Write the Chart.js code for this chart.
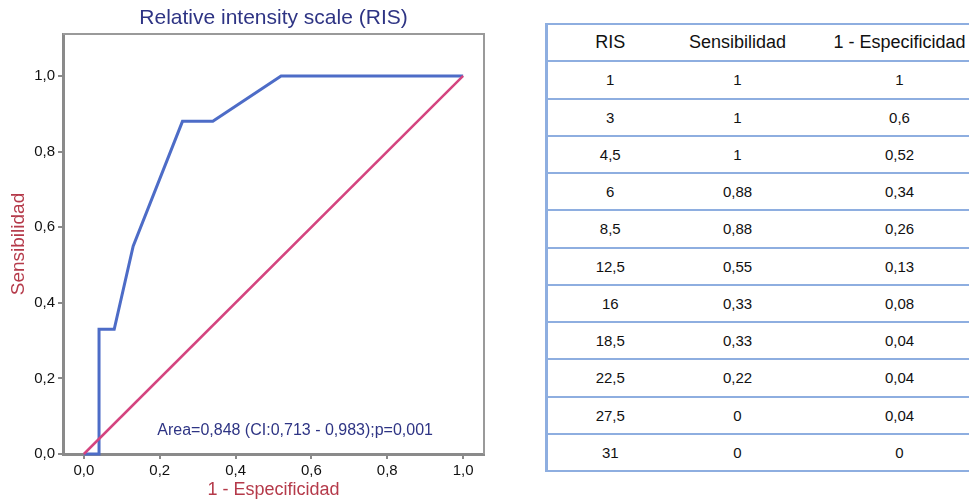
<!DOCTYPE html>
<html>
<head>
<meta charset="utf-8">
<script src="https://cdn.jsdelivr.net/npm/chart.js@4"></script>
<style>
  html, body { margin: 0; padding: 0; background: #fff; overflow: hidden; }
  body { width: 969px; height: 502px; position: relative; font-family: "Liberation Sans", Arial, sans-serif; }
  #chartBox { position: absolute; left: 0; top: 0; width: 490px; height: 502px; }
  #tableBox { position: absolute; left: 545px; top: 23px; width: 424px; overflow: hidden; }
  table { border-collapse: collapse; width: 450px; table-layout: fixed; color: #111; }
  td, th { height: 35.25px; padding: 0; text-align: center; border-top: 2px solid #8eaee0; font-weight: normal; }
  th { font-size: 18px; }
  td { font-size: 15px; }
  tr:last-child td { border-bottom: 2px solid #8eaee0; }
  tr > :first-child { border-left: 3px solid #8eaee0; }
</style>
</head>
<body>
<div id="chartBox"><canvas id="rocChart"></canvas></div>
<div id="tableBox"><table id="risTable"></table></div>
<script>
// Table values (RIS cut-off points)
const risValues = ['1', '3', '4,5', '6', '8,5', '12,5', '16', '18,5', '22,5', '27,5', '31'];
const sensValues = [1, 1, 1, 0.88, 0.88, 0.55, 0.33, 0.33, 0.22, 0, 0];
const fprValues = [1, 0.6, 0.52, 0.34, 0.26, 0.13, 0.08, 0.04, 0.04, 0.04, 0];
const tableHeaders = ['RIS', 'Sensibilidad', '1 - Especificidad'];

// Reference diagonal
const diagX = [0, 1];
const diagY = [0, 1];

const tickValues = [0, 0.2, 0.4, 0.6, 0.8, 1.0];

const fmt = (v) => String(v).replace('.', ',');
const fmtTick = (v) => v.toFixed(1).replace('.', ',');

// Build the table
const table = document.getElementById('risTable');
const colWidths = [126, 130, 194];
let html = '<colgroup>' + colWidths.map(w => `<col style="width:${w}px">`).join('') + '</colgroup>';
html += '<tr>' + tableHeaders.map(h => `<th>${h}</th>`).join('') + '</tr>';
risValues.forEach((r, i) => {
    html += `<tr><td>${r}</td><td>${fmt(sensValues[i])}</td><td>${fmt(fprValues[i])}</td></tr>`;
});
table.innerHTML = html;

// ROC points sorted by 1 - specificity
const rocPoints = [{ x: 0, y: 0 }];
for (let i = risValues.length - 1; i >= 0; i--) {
    rocPoints.push({ x: fprValues[i], y: sensValues[i] });
}
const diagPoints = diagX.map((x, i) => ({ x: x, y: diagY[i] }));

// Frame on top / right + area label
const framePlugin = {
    id: 'frame',
    afterDraw(chart) {
        const { ctx, chartArea, scales } = chart;
        ctx.save();
        ctx.strokeStyle = '#9a9a9a';
        ctx.lineWidth = 2;
        ctx.beginPath();
        ctx.moveTo(chartArea.left, chartArea.top);
        ctx.lineTo(chartArea.right, chartArea.top);
        ctx.lineTo(chartArea.right, chartArea.bottom);
        ctx.stroke();
        ctx.fillStyle = '#2e3484';
        ctx.font = '16px "Liberation Sans", Arial, sans-serif';
        ctx.textAlign = 'center';
        ctx.textBaseline = 'middle';
        ctx.fillText('Area=0,848 (CI:0,713 - 0,983);p=0,001',
            scales.x.getPixelForValue(0.557), scales.y.getPixelForValue(0.062));
        ctx.restore();
    }
};

const axisStyle = (titleText, fixSize, titleSize) => ({
    type: 'linear',
    afterBuildTicks: (s) => { s.ticks = tickValues.map(v => ({ value: v })); },
    afterFit: fixSize,
    ticks: {
        color: '#111',
        font: { size: 15, family: '"Liberation Sans", Arial, sans-serif' },
        padding: 3,
        callback: (v) => fmtTick(v)
    },
    grid: { drawOnChartArea: false, drawTicks: true, tickLength: 5, color: '#8a8a8a', lineWidth: 2 },
    border: { display: true, color: '#8a8a8a', width: 3 },
    title: {
        display: true,
        text: titleText,
        color: '#b53a4a',
        font: { size: titleSize, family: '"Liberation Sans", Arial, sans-serif' }
    }
});

const xAxis = axisStyle('1 - Especificidad', (s) => { s.height = 48; }, 18);
xAxis.min = -0.055;
xAxis.max = 1.055;
xAxis.title.padding = { top: 0, bottom: 1 };

const yAxis = axisStyle('Sensibilidad', (s) => { s.width = 63; }, 19);
yAxis.min = 0;
yAxis.max = 1.111;
yAxis.title.padding = { top: 7, bottom: 0 };

new Chart(document.getElementById('rocChart'), {
    type: 'scatter',
    data: {
        datasets: [
            {
                data: diagPoints,
                showLine: true,
                borderColor: '#d4447f',
                borderWidth: 2.5,
                pointRadius: 0,
                clip: false
            },
            {
                data: rocPoints,
                showLine: true,
                borderColor: '#4d6cc7',
                borderWidth: 3,
                pointRadius: 0,
                clip: false
            }
        ]
    },
    options: {
        responsive: true,
        maintainAspectRatio: false,
        animation: false,
        layout: { padding: { left: 0, right: 6, top: 0, bottom: 0 } },
        plugins: {
            legend: { display: false },
            tooltip: { enabled: false },
            title: {
                display: true,
                fullSize: false,
                text: 'Relative intensity scale (RIS)',
                color: '#2e3484',
                font: { size: 21, weight: 'normal', family: '"Liberation Sans", Arial, sans-serif' },
                padding: { top: 6, bottom: 2.8 }
            }
        },
        scales: { x: xAxis, y: yAxis }
    },
    plugins: [framePlugin]
});
</script>
</body>
</html>
